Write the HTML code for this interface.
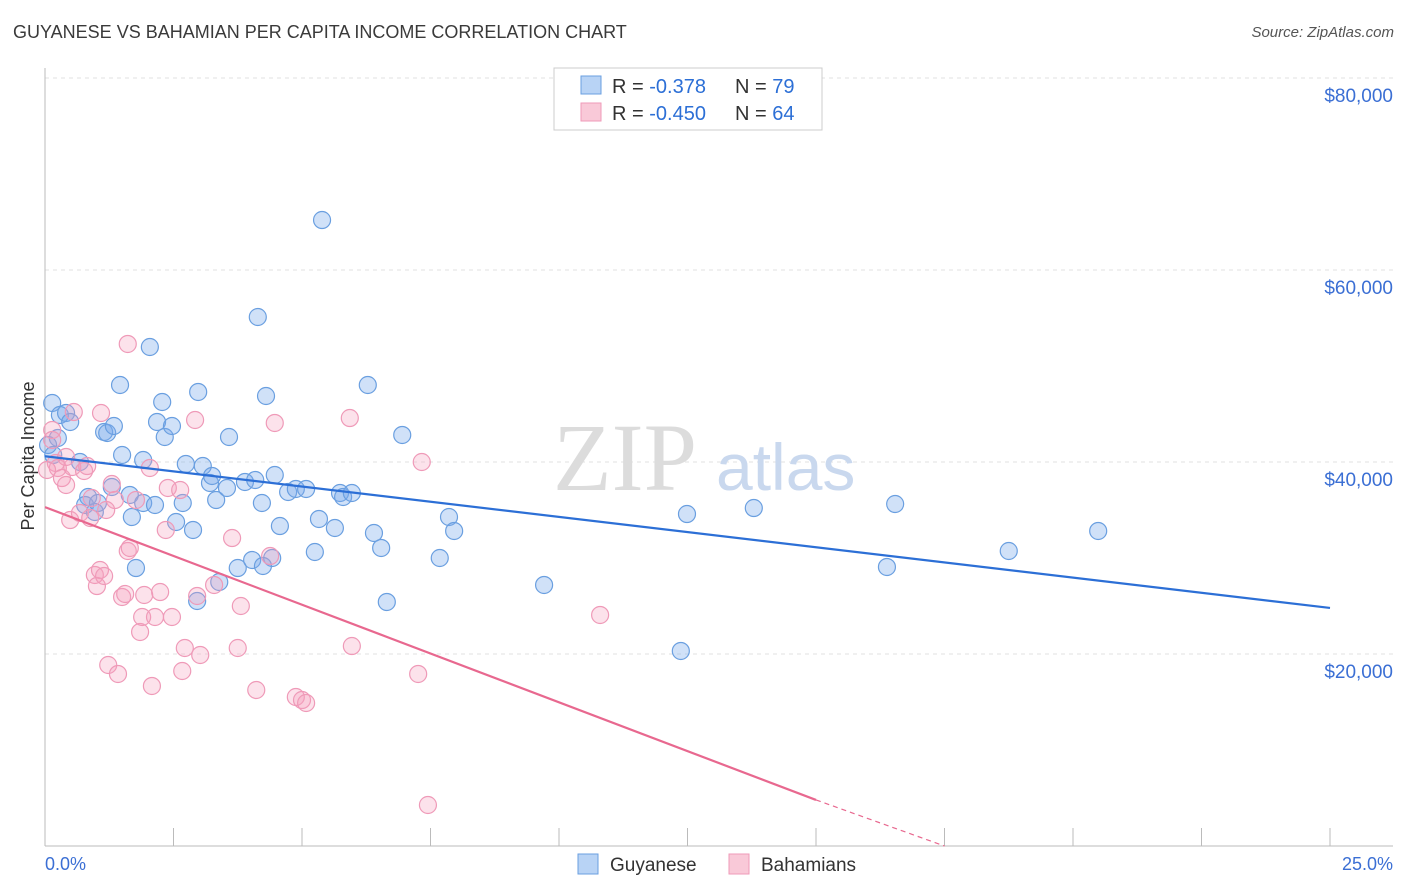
<!DOCTYPE html>
<html><head><meta charset="utf-8">
<style>
body{margin:0;background:#fff;font-family:"Liberation Sans",sans-serif;}
#wrap{position:relative;width:1406px;height:892px;overflow:hidden;}
.title{position:absolute;left:13px;top:22px;font-size:18px;color:#3a3a3a;}
.src{position:absolute;right:12px;top:24px;font-size:15px;color:#555;font-style:italic;}
</style></head>
<body>
<div id="wrap">
<div class="title">GUYANESE VS BAHAMIAN PER CAPITA INCOME CORRELATION CHART</div>
<div class="src">Source: ZipAtlas.com</div>
<svg id="chart" width="1406" height="892" style="position:absolute;left:0;top:0"></svg>
</div>
<script>
const xTicks=[0,2.5,5,7.5,10,12.5,15,17.5,20,22.5,25];
const yTicks=[20000,40000,60000,80000];
const yTickLabels=["$20,000","$40,000","$60,000","$80,000"];
const bluePx=[[52,403],[60,415],[66,413],[70,422],[58,438],[48,445],[53,455],[80,462],[88,497],[85,505],[95,512],[98,503],[104,432],[107,433],[114,426],[122,455],[120,385],[112,487],[130,495],[132,517],[136,568],[143,460],[143,503],[150,347],[155,505],[157,422],[162,402],[165,437],[172,426],[176,522],[183,503],[186,464],[193,530],[198,392],[203,466],[210,483],[212,476],[216,500],[219,582],[227,488],[229,437],[238,568],[245,482],[252,560],[255,480],[258,317],[262,503],[266,396],[272,558],[275,475],[280,526],[288,492],[296,489],[306,489],[315,552],[319,519],[322,220],[335,528],[340,493],[343,497],[352,493],[368,385],[374,533],[381,548],[387,602],[402,435],[440,558],[449,517],[454,531],[544,585],[681,651],[687,514],[754,508],[887,567],[895,504],[1009,551],[1098,531],[197,601],[263,566]];
const pinkPx=[[52,430],[56,463],[58,468],[62,478],[66,485],[70,520],[74,412],[72,467],[80,513],[84,471],[87,466],[90,518],[95,575],[97,586],[100,570],[104,576],[101,413],[108,665],[112,484],[115,500],[118,674],[122,597],[125,594],[128,344],[128,551],[130,548],[140,632],[142,617],[144,595],[150,468],[152,686],[155,617],[160,592],[166,530],[168,488],[172,617],[182,671],[185,648],[195,420],[197,596],[200,655],[214,585],[232,538],[238,648],[241,606],[256,690],[270,556],[275,423],[296,697],[302,700],[306,703],[350,418],[352,646],[418,674],[422,462],[428,805],[600,615],[92,498],[66,457],[136,500],[106,510],[180,490],[52,440],[47,470]];
// convert estimated positions into data values (percent, dollars)
const blueX=bluePx.map(p=>+((p[0]-45)/51.4).toFixed(2));
const blueY=bluePx.map(p=>Math.round((846-p[1])/0.0096));
const pinkX=pinkPx.map(p=>+((p[0]-45)/51.4).toFixed(2));
const pinkY=pinkPx.map(p=>Math.round((846-p[1])/0.0096));
const blueFit=[[0,40600],[25,24800]];
const pinkFit=[[0,35300],[15,4800],[17.5,0]];

const X=v=>45+v*51.4;
const Y=v=>846-v*0.0096;
const svg=document.getElementById('chart');
const NS='http://www.w3.org/2000/svg';
function mk(t,a,parent){const e=document.createElementNS(NS,t);for(const k in a)e.setAttribute(k,a[k]);(parent||svg).appendChild(e);return e;}

// grid
yTicks.forEach((t,i)=>{
  const g=mk('line',{x1:45,x2:1393,y1:Y(t),y2:Y(t),stroke:'#e2e2e2','stroke-dasharray':'4,4'});
  
  
  const l=mk('text',{x:1393,y:Y(t)+24,'text-anchor':'end','font-size':19,fill:'#3b6fd4'});
  l.textContent=yTickLabels[i];
  
  
});
// watermark
const w1=mk('text',{x:553,y:490,'font-size':96,fill:'#dcdcdc','font-family':'Liberation Serif, serif'});w1.textContent='ZIP';


const w2=mk('text',{x:716,y:490,'font-size':66,fill:'#c9d8ee'});w2.textContent='atlas';


// axes
const ya=mk('line',{x1:45,x2:45,y1:68,y2:846,stroke:'#bbb'});


const xa=mk('line',{x1:45,x2:1393,y1:846,y2:846,stroke:'#bbb'});


xTicks.forEach(t=>{
  const k=mk('line',{x1:X(t),x2:X(t),y1:828,y2:846,stroke:'#bbb'});
  
  
});
const x0=mk('text',{x:45,y:870,'font-size':18,fill:'#3b6fd4'});x0.textContent='0.0%';


const x1=mk('text',{x:1393,y:870,'font-size':18,fill:'#3b6fd4','text-anchor':'end'});x1.textContent='25.0%';


const yt=mk('text',{x:0,y:0,'font-size':18,fill:'#333','text-anchor':'middle',transform:'translate(34,456) rotate(-90)'});yt.textContent='Per Capita Income';



// points
blueX.forEach((x,i)=>{
  const c=mk('circle',{cx:X(x),cy:Y(blueY[i]),r:8.5,fill:'rgba(120,170,235,0.35)',stroke:'#6a9fe0','stroke-width':1.2});
  
  
});
pinkX.forEach((x,i)=>{
  const c=mk('circle',{cx:X(x),cy:Y(pinkY[i]),r:8.5,fill:'rgba(245,160,190,0.3)',stroke:'#ef9ab8','stroke-width':1.2});
  
  
});
// fits
const bl=mk('line',{x1:X(blueFit[0][0]),y1:Y(blueFit[0][1]),x2:X(blueFit[1][0]),y2:Y(blueFit[1][1]),stroke:'#2c6fd6','stroke-width':2.2});


const pl=mk('line',{x1:X(pinkFit[0][0]),y1:Y(pinkFit[0][1]),x2:X(pinkFit[1][0]),y2:Y(pinkFit[1][1]),stroke:'#e8688f','stroke-width':2.2});


const pd=mk('line',{x1:X(pinkFit[1][0]),y1:Y(pinkFit[1][1]),x2:X(pinkFit[2][0]),y2:Y(pinkFit[2][1]),stroke:'#e8688f','stroke-width':1.2,'stroke-dasharray':'5,4'});



// top legend
const lg=mk('g',{});


mk('rect',{x:554,y:68,width:268,height:62,fill:'#fff',stroke:'#ccc'},lg);
mk('rect',{x:581,y:76,width:20,height:18,fill:'#b8d3f5',stroke:'#6a9fe0'},lg);
mk('rect',{x:581,y:103,width:20,height:18,fill:'#f9c9d8',stroke:'#ef9ab8'},lg);
[[93,'-0.378','79'],[120,'-0.450','64']].forEach(r=>{
  const t=mk('text',{x:612,y:r[0],'font-size':20,fill:'#333'},lg);
  t.innerHTML='R = <tspan fill="#2c6fd6"> '+r[1]+'</tspan><tspan x="735">N = </tspan><tspan fill="#2c6fd6">'+r[2]+'</tspan>';
});
// bottom legend
const bg=mk('g',{});


mk('rect',{x:578,y:854,width:20,height:20,fill:'#b8d3f5',stroke:'#6a9fe0'},bg);
const tg=mk('text',{x:610,y:871,'font-size':19,fill:'#333'},bg);tg.textContent='Guyanese';
mk('rect',{x:729,y:854,width:20,height:20,fill:'#f9c9d8',stroke:'#ef9ab8'},bg);
const tb=mk('text',{x:761,y:871,'font-size':19,fill:'#333'},bg);tb.textContent='Bahamians';
</script>
</body></html>
